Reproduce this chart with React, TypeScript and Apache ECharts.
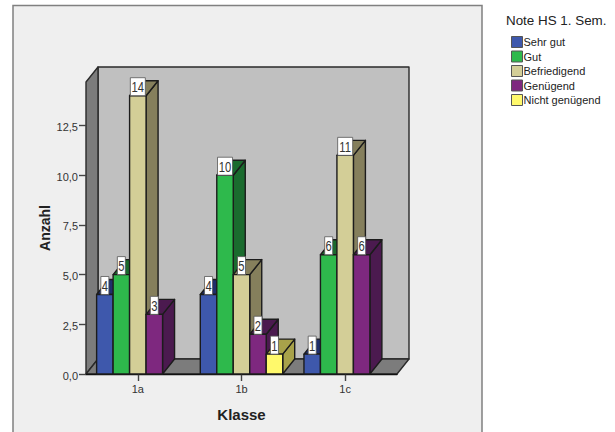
import React, { useEffect, useRef } from "react";
import * as echarts from "echarts";

const classes = ["1a", "1b", "1c"];
const grades = ["Sehr gut", "Gut", "Befriedigend", "Genügend", "Nicht genügend"];
const sehrGut = [4, 4, 1];
const gut = [5, 10, 6];
const befriedigend = [14, 5, 11];
const genuegend = [3, 2, 6];
const nichtGenuegend = [0, 1, 0];
const gradeValues = [sehrGut, gut, befriedigend, genuegend, nichtGenuegend];
const frontColors = ["#3E58AC", "#2EB94C", "#D3CE97", "#7E287F", "#FFF96B"];
const shadeColors = ["#1F2E6B", "#1A6B2E", "#857F5C", "#4B1A4F", "#A8A24A"];
const yTicks = [0, 2.5, 5, 7.5, 10, 12.5];

// Oblique depth of the pseudo-3D projection, in pixels.
const DEPTH_X = 12;
const DEPTH_Y = 15;
const OUTLINE = "#1c1c1c";
const SLOT_RATIO = 0.159;

const GRID = { left: 86, top: 82, width: 311, height: 292 };

function renderBar(slot: number) {
  return (params: any, api: any) => {
    const value = api.value(1);
    if (!value) return null;
    const [cx, top] = api.coord([api.value(0), value]);
    const [, base] = api.coord([api.value(0), 0]);
    const w = api.size([1, 0])[0] * SLOT_RATIO;
    const x0 = cx + (slot - 2.5) * w;
    const x1 = x0 + w;
    const lineStyle = { stroke: OUTLINE, lineWidth: 1.4, lineJoin: "round" };
    const text = String(value);
    const boxW = text.length > 1 ? 15 : 8;
    const boxH = 18;
    const mid = (x0 + x1) / 2;
    return {
      type: "group",
      children: [
        {
          type: "polygon",
          shape: { points: [[x1, top], [x1 + DEPTH_X, top - DEPTH_Y], [x1 + DEPTH_X, base - DEPTH_Y], [x1, base]] },
          style: { fill: shadeColors[slot], ...lineStyle },
        },
        {
          type: "polygon",
          shape: { points: [[x0, top], [x0 + DEPTH_X, top - DEPTH_Y], [x1 + DEPTH_X, top - DEPTH_Y], [x1, top]] },
          style: { fill: shadeColors[slot], ...lineStyle },
        },
        {
          type: "rect",
          shape: { x: x0, y: top, width: x1 - x0, height: base - top },
          style: { fill: frontColors[slot], ...lineStyle },
        },
        {
          type: "rect",
          shape: { x: mid - boxW / 2, y: top - boxH, width: boxW, height: boxH },
          style: { fill: "#ffffff", stroke: "#555555", lineWidth: 0.8 },
        },
        {
          type: "text",
          x: mid,
          y: top - boxH / 2 + 0.5,
          scaleX: 0.75,
          style: {
            text,
            x: 0,
            y: 0,
            align: "center",
            verticalAlign: "middle",
            font: "15px 'Liberation Sans'",
            fill: "#333333",
          },
        },
      ],
    };
  };
}

export default function App() {
  const ref = useRef<HTMLDivElement>(null);

  useEffect(() => {
    const chart = echarts.init(ref.current!, undefined, { renderer: "svg" });
    const left = GRID.left;
    const right = GRID.left + GRID.width;
    const top = GRID.top;
    const bottom = GRID.top + GRID.height;
    const wallLine = { stroke: "#2a2a2a", lineWidth: 1.4, lineJoin: "round" };

    chart.setOption({
      animation: false,
      backgroundColor: "#ffffff",
      textStyle: { fontFamily: "'Liberation Sans'" },
      title: {
        text: "Note HS 1. Sem.",
        left: 506,
        top: 14,
        padding: 0,
        textStyle: { fontSize: 13.4, fontWeight: "normal", color: "#222222", fontFamily: "'Liberation Sans'" },
      },
      legend: {
        orient: "vertical",
        left: 511,
        top: 36,
        padding: 0,
        itemWidth: 11,
        itemHeight: 11,
        itemGap: 2.5,
        icon: "rect",
        selectedMode: false,
        data: grades,
        itemStyle: { borderColor: "#555555", borderWidth: 1 },
        textStyle: { fontSize: 11, color: "#222222", padding: [0, 0, 0, -4], fontFamily: "'Liberation Sans'" },
      },
      grid: { ...GRID, containLabel: false },
      xAxis: {
        type: "category",
        data: classes,
        name: "Klasse",
        nameLocation: "middle",
        nameGap: 33,
        nameTextStyle: { fontSize: 15, fontWeight: "bold", color: "#222222" },
        axisLine: { show: true, lineStyle: { color: "#111111", width: 1.4 } },
        axisTick: { show: true, alignWithLabel: true, length: 7, lineStyle: { color: "#444444", width: 1.4 } },
        axisLabel: { fontSize: 11, color: "#333333", margin: 9 },
      },
      yAxis: {
        type: "value",
        min: 0,
        max: 14.69,
        name: "Anzahl",
        nameLocation: "middle",
        nameGap: 34,
        nameMoveOverlap: false,
        nameTextStyle: { fontSize: 14, fontWeight: "bold", color: "#222222" },
        splitLine: { show: false },
        axisLine: { show: false },
        axisTick: { show: true, length: 7, customValues: yTicks, lineStyle: { color: "#444444", width: 1.4 } },
        axisLabel: {
          fontSize: 11,
          color: "#333333",
          margin: 8,
          verticalAlign: "top",
          padding: [-4, 0, 0, 0],
          customValues: yTicks,
          formatter: (v: number) => v.toFixed(1).replace(".", ","),
        },
      },
      graphic: [
        {
          type: "rect",
          z: -10,
          silent: true,
          shape: { x: 13, y: 5.5, width: 469, height: 440 },
          style: { fill: "#EFEFEF", stroke: "#808080", lineWidth: 1.5 },
        },
        {
          type: "polygon",
          z: -9,
          silent: true,
          shape: { points: [[left + DEPTH_X, top - DEPTH_Y], [right + DEPTH_X, top - DEPTH_Y], [right + DEPTH_X, bottom - DEPTH_Y], [left + DEPTH_X, bottom - DEPTH_Y]] },
          style: { fill: "#C0C0C0", ...wallLine },
        },
        {
          type: "polygon",
          z: -9,
          silent: true,
          shape: { points: [[left, top], [left + DEPTH_X, top - DEPTH_Y], [left + DEPTH_X, bottom - DEPTH_Y], [left, bottom]] },
          style: { fill: "#7C7C7C", ...wallLine },
        },
        {
          type: "polygon",
          z: -9,
          silent: true,
          shape: { points: [[left, bottom], [left + DEPTH_X, bottom - DEPTH_Y], [right + DEPTH_X, bottom - DEPTH_Y], [right, bottom]] },
          style: { fill: "#7C7C7C", ...wallLine },
        },
      ],
      series: grades.map((name, slot) => ({
        name,
        type: "custom",
        clip: false,
        coordinateSystem: "cartesian2d",
        itemStyle: { color: frontColors[slot], borderColor: "#444444", borderWidth: 1 },
        encode: { x: 0, y: 1 },
        data: gradeValues[slot].map((v, i) => [i, v]),
        renderItem: renderBar(slot),
      })),
    });

    return () => chart.dispose();
  }, []);

  return <div ref={ref} style={{ position: "absolute", left: 0, top: 0, width: 615, height: 432 }} />;
}
